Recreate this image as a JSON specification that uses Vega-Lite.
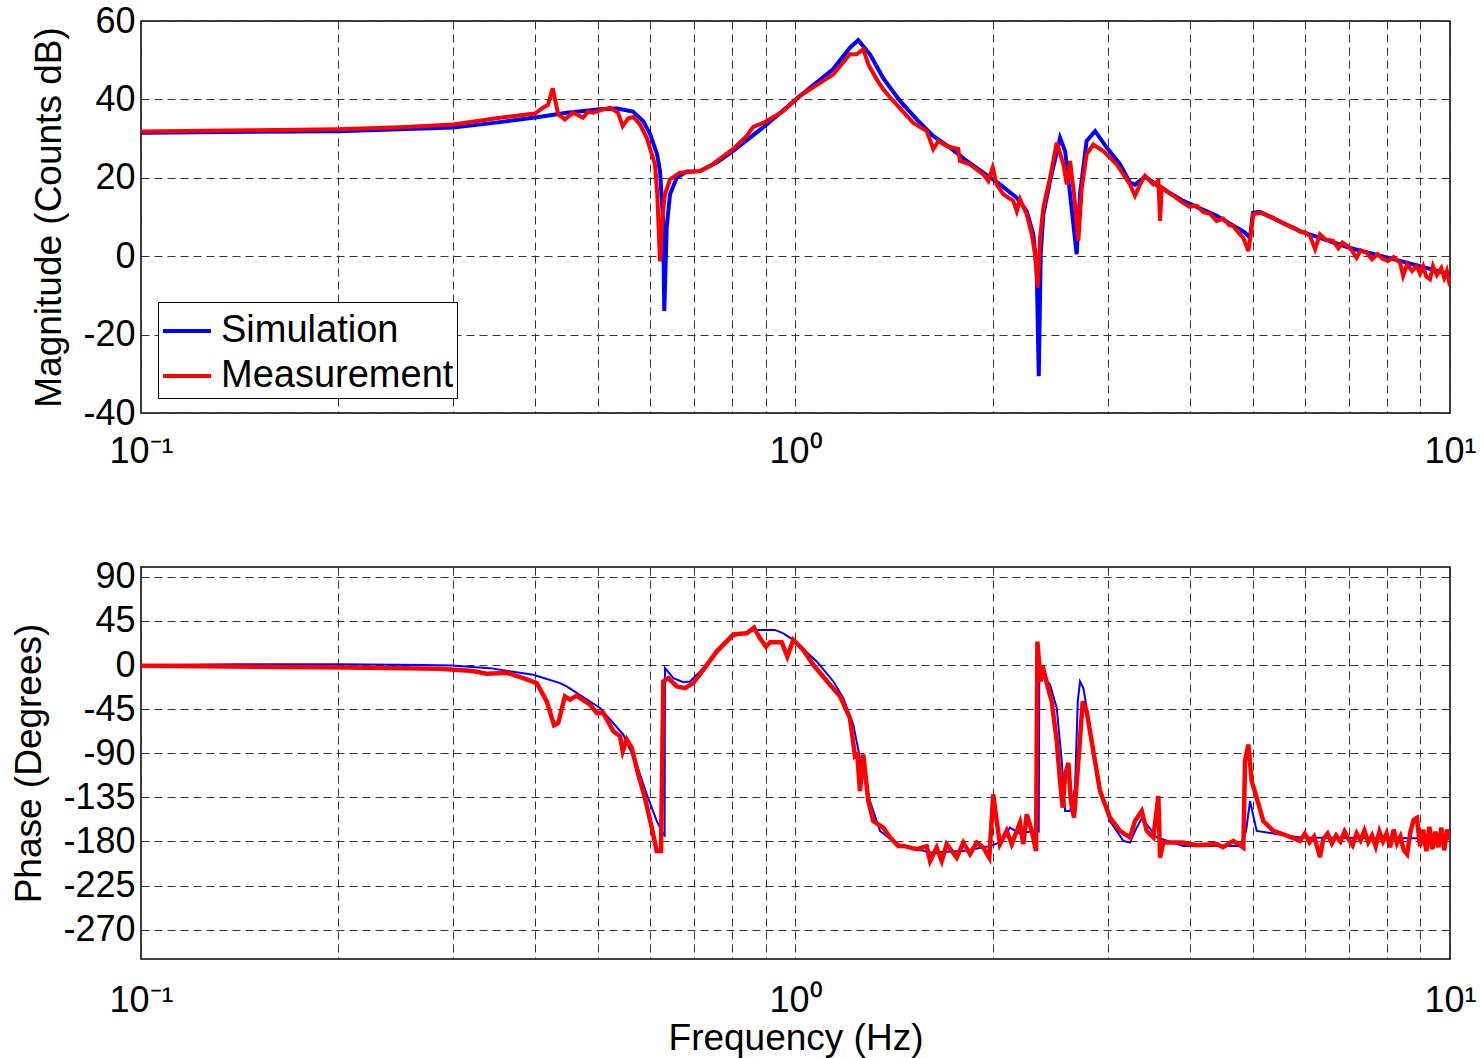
{
  "$schema": "https://vega.github.io/schema/vega-lite/v6.json",
  "background": "white",
  "padding": {"left": 10, "top": 2, "right": 4, "bottom": 4},
  "bounds": "flush",
  "spacing": 154,
  "config": {
    "font": "Liberation Sans",
    "view": {"stroke": "#000000", "strokeWidth": 1.5},
    "axis": {
      "labelFont": "Liberation Sans", "labelFontSize": 36, "labelColor": "#000000",
      "titleFont": "Liberation Sans", "titleFontSize": 37, "titleFontWeight": "normal", "titleColor": "#000000",
      "domain": false, "ticks": false, "tickSize": 0,
      "grid": true, "gridColor": "#333333", "gridDash": [8, 5], "gridWidth": 1, "gridOpacity": 1
    }
  },
  "resolve": {"scale": {"color": "independent"}, "legend": {"color": "independent"}},
  "datasets": {
    "mag": [
      {"freq": 0.1, "value": 31.5, "series": "Simulation"},
      {"freq": 0.2, "value": 31.9, "series": "Simulation"},
      {"freq": 0.3, "value": 32.8, "series": "Simulation"},
      {"freq": 0.3535, "value": 34.2, "series": "Simulation"},
      {"freq": 0.4, "value": 35.4, "series": "Simulation"},
      {"freq": 0.4478, "value": 36.6, "series": "Simulation"},
      {"freq": 0.5027, "value": 37.5, "series": "Simulation"},
      {"freq": 0.5338, "value": 37.7, "series": "Simulation"},
      {"freq": 0.5646, "value": 36.9, "series": "Simulation"},
      {"freq": 0.5848, "value": 34.5, "series": "Simulation"},
      {"freq": 0.5994, "value": 31.2, "series": "Simulation"},
      {"freq": 0.6143, "value": 26.1, "series": "Simulation"},
      {"freq": 0.6209, "value": 21.7, "series": "Simulation"},
      {"freq": 0.6276, "value": 9, "series": "Simulation"},
      {"freq": 0.6302, "value": -14, "series": "Simulation"},
      {"freq": 0.6356, "value": 7.3, "series": "Simulation"},
      {"freq": 0.6431, "value": 15.8, "series": "Simulation"},
      {"freq": 0.6584, "value": 20, "series": "Simulation"},
      {"freq": 0.6821, "value": 21.6, "series": "Simulation"},
      {"freq": 0.7146, "value": 21.7, "series": "Simulation"},
      {"freq": 0.7578, "value": 23.9, "series": "Simulation"},
      {"freq": 0.8025, "value": 26.8, "series": "Simulation"},
      {"freq": 0.9036, "value": 33.6, "series": "Simulation"},
      {"freq": 1.016, "value": 40.9, "series": "Simulation"},
      {"freq": 1.141, "value": 47.7, "series": "Simulation"},
      {"freq": 1.211, "value": 53.2, "series": "Simulation"},
      {"freq": 1.247, "value": 55.1, "series": "Simulation"},
      {"freq": 1.2995, "value": 51.5, "series": "Simulation"},
      {"freq": 1.3606, "value": 45.5, "series": "Simulation"},
      {"freq": 1.4444, "value": 39.6, "series": "Simulation"},
      {"freq": 1.5318, "value": 34.9, "series": "Simulation"},
      {"freq": 1.6226, "value": 30.7, "series": "Simulation"},
      {"freq": 1.7221, "value": 27.7, "series": "Simulation"},
      {"freq": 1.827, "value": 24.3, "series": "Simulation"},
      {"freq": 1.936, "value": 21.3, "series": "Simulation"},
      {"freq": 2.053, "value": 18.3, "series": "Simulation"},
      {"freq": 2.178, "value": 14.9, "series": "Simulation"},
      {"freq": 2.2557, "value": 11.5, "series": "Simulation"},
      {"freq": 2.3088, "value": 5.6, "series": "Simulation"},
      {"freq": 2.3366, "value": -3.8, "series": "Simulation"},
      {"freq": 2.3533, "value": -30.6, "series": "Simulation"},
      {"freq": 2.3696, "value": 0.5, "series": "Simulation"},
      {"freq": 2.3915, "value": 10.7, "series": "Simulation"},
      {"freq": 2.4484, "value": 19.2, "series": "Simulation"},
      {"freq": 2.5364, "value": 30.2, "series": "Simulation"},
      {"freq": 2.5818, "value": 26.8, "series": "Simulation"},
      {"freq": 2.6274, "value": 15.8, "series": "Simulation"},
      {"freq": 2.689, "value": 0.5, "series": "Simulation"},
      {"freq": 2.7207, "value": 15.8, "series": "Simulation"},
      {"freq": 2.785, "value": 29.4, "series": "Simulation"},
      {"freq": 2.8695, "value": 31.9, "series": "Simulation"},
      {"freq": 2.9887, "value": 27.7, "series": "Simulation"},
      {"freq": 3.1317, "value": 23.5, "series": "Simulation"},
      {"freq": 3.2439, "value": 18.8, "series": "Simulation"},
      {"freq": 3.3013, "value": 18.2, "series": "Simulation"},
      {"freq": 3.4198, "value": 20.3, "series": "Simulation"},
      {"freq": 3.6058, "value": 17.6, "series": "Simulation"},
      {"freq": 3.9125, "value": 14.1, "series": "Simulation"},
      {"freq": 4.4007, "value": 10.3, "series": "Simulation"},
      {"freq": 4.862, "value": 6.0, "series": "Simulation"},
      {"freq": 4.948, "value": 4.7, "series": "Simulation"},
      {"freq": 5.0, "value": 11.1, "series": "Simulation"},
      {"freq": 5.125, "value": 11.3, "series": "Simulation"},
      {"freq": 5.899, "value": 6.4, "series": "Simulation"},
      {"freq": 7.035, "value": 2.1, "series": "Simulation"},
      {"freq": 8.387, "value": -1.2, "series": "Simulation"},
      {"freq": 10, "value": -4.6, "series": "Simulation"},

      {"freq": 0.1, "value": 31.8, "series": "Measurement"},
      {"freq": 0.1467, "value": 32.1, "series": "Measurement"},
      {"freq": 0.2, "value": 32.4, "series": "Measurement"},
      {"freq": 0.2487, "value": 32.9, "series": "Measurement"},
      {"freq": 0.3, "value": 33.6, "series": "Measurement"},
      {"freq": 0.3535, "value": 35.3, "series": "Measurement"},
      {"freq": 0.4, "value": 36.4, "series": "Measurement"},
      {"freq": 0.4114, "value": 37.9, "series": "Measurement"},
      {"freq": 0.4186, "value": 38.6, "series": "Measurement"},
      {"freq": 0.4256, "value": 42.8, "series": "Measurement"},
      {"freq": 0.434, "value": 36.2, "series": "Measurement"},
      {"freq": 0.4443, "value": 34.9, "series": "Measurement"},
      {"freq": 0.4571, "value": 36.6, "series": "Measurement"},
      {"freq": 0.4735, "value": 35.3, "series": "Measurement"},
      {"freq": 0.4819, "value": 36.9, "series": "Measurement"},
      {"freq": 0.4905, "value": 36.6, "series": "Measurement"},
      {"freq": 0.5027, "value": 37.2, "series": "Measurement"},
      {"freq": 0.5207, "value": 37.9, "series": "Measurement"},
      {"freq": 0.5356, "value": 36.6, "series": "Measurement"},
      {"freq": 0.5445, "value": 33.2, "series": "Measurement"},
      {"freq": 0.5552, "value": 35.2, "series": "Measurement"},
      {"freq": 0.5652, "value": 35.5, "series": "Measurement"},
      {"freq": 0.5786, "value": 33.6, "series": "Measurement"},
      {"freq": 0.5926, "value": 30.2, "series": "Measurement"},
      {"freq": 0.6031, "value": 26, "series": "Measurement"},
      {"freq": 0.61, "value": 23.4, "series": "Measurement"},
      {"freq": 0.6149, "value": 15.8, "series": "Measurement"},
      {"freq": 0.6209, "value": -1.3, "series": "Measurement"},
      {"freq": 0.6267, "value": 10.7, "series": "Measurement"},
      {"freq": 0.6318, "value": 15.8, "series": "Measurement"},
      {"freq": 0.6431, "value": 19.6, "series": "Measurement"},
      {"freq": 0.666, "value": 21.3, "series": "Measurement"},
      {"freq": 0.7146, "value": 21.7, "series": "Measurement"},
      {"freq": 0.7403, "value": 23, "series": "Measurement"},
      {"freq": 0.8025, "value": 27.3, "series": "Measurement"},
      {"freq": 0.8422, "value": 30.7, "series": "Measurement"},
      {"freq": 0.8619, "value": 33, "series": "Measurement"},
      {"freq": 0.8929, "value": 34, "series": "Measurement"},
      {"freq": 0.9581, "value": 37, "series": "Measurement"},
      {"freq": 1.016, "value": 40.9, "series": "Measurement"},
      {"freq": 1.1426, "value": 46.4, "series": "Measurement"},
      {"freq": 1.211, "value": 51.5, "series": "Measurement"},
      {"freq": 1.24, "value": 51.5, "series": "Measurement"},
      {"freq": 1.2693, "value": 52.8, "series": "Measurement"},
      {"freq": 1.2918, "value": 49, "series": "Measurement"},
      {"freq": 1.3306, "value": 45.1, "series": "Measurement"},
      {"freq": 1.3616, "value": 42.6, "series": "Measurement"},
      {"freq": 1.4104, "value": 39.6, "series": "Measurement"},
      {"freq": 1.5136, "value": 34, "series": "Measurement"},
      {"freq": 1.5867, "value": 31.9, "series": "Measurement"},
      {"freq": 1.624, "value": 27.3, "series": "Measurement"},
      {"freq": 1.6527, "value": 29.4, "series": "Measurement"},
      {"freq": 1.7022, "value": 28.1, "series": "Measurement"},
      {"freq": 1.7731, "value": 27.3, "series": "Measurement"},
      {"freq": 1.7838, "value": 24.3, "series": "Measurement"},
      {"freq": 1.848, "value": 23.4, "series": "Measurement"},
      {"freq": 1.936, "value": 20.9, "series": "Measurement"},
      {"freq": 1.9705, "value": 19.2, "series": "Measurement"},
      {"freq": 2.0012, "value": 22.6, "series": "Measurement"},
      {"freq": 2.0296, "value": 18.3, "series": "Measurement"},
      {"freq": 2.0774, "value": 15.8, "series": "Measurement"},
      {"freq": 2.1518, "value": 14.1, "series": "Measurement"},
      {"freq": 2.178, "value": 11.5, "series": "Measurement"},
      {"freq": 2.2029, "value": 14.5, "series": "Measurement"},
      {"freq": 2.2557, "value": 10.7, "series": "Measurement"},
      {"freq": 2.2961, "value": 5.6, "series": "Measurement"},
      {"freq": 2.3228, "value": 0.5, "series": "Measurement"},
      {"freq": 2.3451, "value": -8, "series": "Measurement"},
      {"freq": 2.3641, "value": 4.7, "series": "Measurement"},
      {"freq": 2.3915, "value": 12.4, "series": "Measurement"},
      {"freq": 2.4484, "value": 20, "series": "Measurement"},
      {"freq": 2.5071, "value": 29, "series": "Measurement"},
      {"freq": 2.5662, "value": 23.4, "series": "Measurement"},
      {"freq": 2.5971, "value": 18.3, "series": "Measurement"},
      {"freq": 2.6274, "value": 24.3, "series": "Measurement"},
      {"freq": 2.6643, "value": 15.8, "series": "Measurement"},
      {"freq": 2.705, "value": 3.9, "series": "Measurement"},
      {"freq": 2.7376, "value": 17.5, "series": "Measurement"},
      {"freq": 2.785, "value": 26, "series": "Measurement"},
      {"freq": 2.851, "value": 28.5, "series": "Measurement"},
      {"freq": 2.953, "value": 26.8, "series": "Measurement"},
      {"freq": 3.0959, "value": 23.4, "series": "Measurement"},
      {"freq": 3.2439, "value": 18.3, "series": "Measurement"},
      {"freq": 3.3013, "value": 15.4, "series": "Measurement"},
      {"freq": 3.3604, "value": 18.3, "series": "Measurement"},
      {"freq": 3.4198, "value": 20.5, "series": "Measurement"},
      {"freq": 3.5222, "value": 18.3, "series": "Measurement"},
      {"freq": 3.5843, "value": 19.2, "series": "Measurement"},
      {"freq": 3.6058, "value": 9, "series": "Measurement"},
      {"freq": 3.6275, "value": 17.5, "series": "Measurement"},
      {"freq": 3.9125, "value": 13.6, "series": "Measurement"},
      {"freq": 4.0, "value": 12.6, "series": "Measurement"},
      {"freq": 4.1, "value": 12.9, "series": "Measurement"},
      {"freq": 4.2, "value": 11.2, "series": "Measurement"},
      {"freq": 4.3, "value": 10.8, "series": "Measurement"},
      {"freq": 4.4007, "value": 9, "series": "Measurement"},
      {"freq": 4.5, "value": 9.6, "series": "Measurement"},
      {"freq": 4.6, "value": 7.9, "series": "Measurement"},
      {"freq": 4.6665, "value": 7.7, "series": "Measurement"},
      {"freq": 4.75, "value": 6.0, "series": "Measurement"},
      {"freq": 4.8335, "value": 4.7, "series": "Measurement"},
      {"freq": 4.9188, "value": 1.3, "series": "Measurement"},
      {"freq": 4.9774, "value": 7.3, "series": "Measurement"},
      {"freq": 5.0, "value": 10.7, "series": "Measurement"},
      {"freq": 5.13, "value": 11.1, "series": "Measurement"},
      {"freq": 5.25, "value": 10.5, "series": "Measurement"},
      {"freq": 5.37, "value": 9.8, "series": "Measurement"},
      {"freq": 5.5, "value": 8.8, "series": "Measurement"},
      {"freq": 5.6, "value": 8.1, "series": "Measurement"},
      {"freq": 5.76, "value": 7.3, "series": "Measurement"},
      {"freq": 5.9, "value": 6.3, "series": "Measurement"},
      {"freq": 6.0, "value": 6.0, "series": "Measurement"},
      {"freq": 6.11, "value": 5.2, "series": "Measurement"},
      {"freq": 6.22, "value": 1.8, "series": "Measurement"},
      {"freq": 6.33, "value": 5.6, "series": "Measurement"},
      {"freq": 6.45, "value": 4.3, "series": "Measurement"},
      {"freq": 6.63, "value": 3.9, "series": "Measurement"},
      {"freq": 6.75, "value": 2.0, "series": "Measurement"},
      {"freq": 6.85, "value": 3.5, "series": "Measurement"},
      {"freq": 7.03, "value": 2.2, "series": "Measurement"},
      {"freq": 7.2, "value": -0.4, "series": "Measurement"},
      {"freq": 7.3, "value": 1.5, "series": "Measurement"},
      {"freq": 7.46, "value": 0.9, "series": "Measurement"},
      {"freq": 7.6, "value": -0.8, "series": "Measurement"},
      {"freq": 7.75, "value": 0.5, "series": "Measurement"},
      {"freq": 7.91, "value": -0.8, "series": "Measurement"},
      {"freq": 8.05, "value": -1.2, "series": "Measurement"},
      {"freq": 8.2, "value": -0.2, "series": "Measurement"},
      {"freq": 8.39, "value": -1.7, "series": "Measurement"},
      {"freq": 8.48, "value": -5, "series": "Measurement"},
      {"freq": 8.6, "value": -2.0, "series": "Measurement"},
      {"freq": 8.75, "value": -3.8, "series": "Measurement"},
      {"freq": 8.89, "value": -2.5, "series": "Measurement"},
      {"freq": 9.0, "value": -4.5, "series": "Measurement"},
      {"freq": 9.1, "value": -2.6, "series": "Measurement"},
      {"freq": 9.2, "value": -5.2, "series": "Measurement"},
      {"freq": 9.32, "value": -5.9, "series": "Measurement"},
      {"freq": 9.42, "value": -2.5, "series": "Measurement"},
      {"freq": 9.55, "value": -4.8, "series": "Measurement"},
      {"freq": 9.7, "value": -3.0, "series": "Measurement"},
      {"freq": 9.8, "value": -5.5, "series": "Measurement"},
      {"freq": 9.89, "value": -3.8, "series": "Measurement"},
      {"freq": 10, "value": -7.6, "series": "Measurement"}
    ],
    "phase": [
      {"freq": 0.1, "value": 0, "series": "Simulation"},
      {"freq": 0.1417, "value": 0.8, "series": "Simulation"},
      {"freq": 0.2, "value": 0.8, "series": "Simulation"},
      {"freq": 0.2698, "value": 0, "series": "Simulation"},
      {"freq": 0.2983, "value": -0.5, "series": "Simulation"},
      {"freq": 0.3413, "value": -3.2, "series": "Simulation"},
      {"freq": 0.3976, "value": -10, "series": "Simulation"},
      {"freq": 0.4368, "value": -18.5, "series": "Simulation"},
      {"freq": 0.4471, "value": -21.9, "series": "Simulation"},
      {"freq": 0.5027, "value": -43.9, "series": "Simulation"},
      {"freq": 0.5456, "value": -71, "series": "Simulation"},
      {"freq": 0.572, "value": -101.5, "series": "Simulation"},
      {"freq": 0.5926, "value": -132, "series": "Simulation"},
      {"freq": 0.6136, "value": -159, "series": "Simulation"},
      {"freq": 0.6281, "value": -172.7, "series": "Simulation"},
      {"freq": 0.631, "value": -174, "series": "Simulation"},
      {"freq": 0.6318, "value": -3.2, "series": "Simulation"},
      {"freq": 0.6505, "value": -13.4, "series": "Simulation"},
      {"freq": 0.674, "value": -17.5, "series": "Simulation"},
      {"freq": 0.69, "value": -16.8, "series": "Simulation"},
      {"freq": 0.7229, "value": -3.2, "series": "Simulation"},
      {"freq": 0.7578, "value": 13.7, "series": "Simulation"},
      {"freq": 0.8035, "value": 29, "series": "Simulation"},
      {"freq": 0.852, "value": 34.8, "series": "Simulation"},
      {"freq": 0.8722, "value": 35.8, "series": "Simulation"},
      {"freq": 0.9305, "value": 35.8, "series": "Simulation"},
      {"freq": 0.9581, "value": 32.3, "series": "Simulation"},
      {"freq": 0.9922, "value": 25.6, "series": "Simulation"},
      {"freq": 1.0775, "value": 3.6, "series": "Simulation"},
      {"freq": 1.1426, "value": -16.8, "series": "Simulation"},
      {"freq": 1.1832, "value": -33.8, "series": "Simulation"},
      {"freq": 1.2254, "value": -60.8, "series": "Simulation"},
      {"freq": 1.2545, "value": -94.8, "series": "Simulation"},
      {"freq": 1.2995, "value": -138.8, "series": "Simulation"},
      {"freq": 1.3463, "value": -169.3, "series": "Simulation"},
      {"freq": 1.4276, "value": -182.8, "series": "Simulation"},
      {"freq": 1.6055, "value": -191.4, "series": "Simulation"},
      {"freq": 1.8031, "value": -189.7, "series": "Simulation"},
      {"freq": 1.9828, "value": -184.6, "series": "Simulation"},
      {"freq": 2.053, "value": -181, "series": "Simulation"},
      {"freq": 2.1266, "value": -166, "series": "Simulation"},
      {"freq": 2.2029, "value": -172, "series": "Simulation"},
      {"freq": 2.3088, "value": -169.3, "series": "Simulation"},
      {"freq": 2.353, "value": -170, "series": "Simulation"},
      {"freq": 2.3577, "value": -4.9, "series": "Simulation"},
      {"freq": 2.4484, "value": -20.1, "series": "Simulation"},
      {"freq": 2.5071, "value": -43.9, "series": "Simulation"},
      {"freq": 2.5515, "value": -98, "series": "Simulation"},
      {"freq": 2.5818, "value": -148.9, "series": "Simulation"},
      {"freq": 2.6274, "value": -148.9, "series": "Simulation"},
      {"freq": 2.6734, "value": -125.3, "series": "Simulation"},
      {"freq": 2.6995, "value": -37.1, "series": "Simulation"},
      {"freq": 2.7207, "value": -16.8, "series": "Simulation"},
      {"freq": 2.7532, "value": -23.6, "series": "Simulation"},
      {"freq": 2.8184, "value": -64.3, "series": "Simulation"},
      {"freq": 2.9195, "value": -125.3, "series": "Simulation"},
      {"freq": 3.0237, "value": -159.2, "series": "Simulation"},
      {"freq": 3.1682, "value": -179.5, "series": "Simulation"},
      {"freq": 3.2439, "value": -181.2, "series": "Simulation"},
      {"freq": 3.321, "value": -166, "series": "Simulation"},
      {"freq": 3.3835, "value": -156, "series": "Simulation"},
      {"freq": 3.5643, "value": -176, "series": "Simulation"},
      {"freq": 3.9125, "value": -184.6, "series": "Simulation"},
      {"freq": 4.7753, "value": -184.6, "series": "Simulation"},
      {"freq": 4.879, "value": -170, "series": "Simulation"},
      {"freq": 4.948, "value": -138.8, "series": "Simulation"},
      {"freq": 5.0655, "value": -169.3, "series": "Simulation"},
      {"freq": 5.899, "value": -176, "series": "Simulation"},
      {"freq": 10, "value": -177, "series": "Simulation"},

      {"freq": 0.1, "value": -0.8, "series": "Measurement"},
      {"freq": 0.2086, "value": -2.5, "series": "Measurement"},
      {"freq": 0.2862, "value": -3.9, "series": "Measurement"},
      {"freq": 0.3216, "value": -6.2, "series": "Measurement"},
      {"freq": 0.3375, "value": -8.8, "series": "Measurement"},
      {"freq": 0.3621, "value": -8, "series": "Measurement"},
      {"freq": 0.3838, "value": -13.4, "series": "Measurement"},
      {"freq": 0.4024, "value": -18.5, "series": "Measurement"},
      {"freq": 0.4168, "value": -37.1, "series": "Measurement"},
      {"freq": 0.4276, "value": -61.5, "series": "Measurement"},
      {"freq": 0.434, "value": -59.2, "series": "Measurement"},
      {"freq": 0.4443, "value": -32, "series": "Measurement"},
      {"freq": 0.4524, "value": -35.4, "series": "Measurement"},
      {"freq": 0.4631, "value": -31.3, "series": "Measurement"},
      {"freq": 0.4853, "value": -40.5, "series": "Measurement"},
      {"freq": 0.497, "value": -49, "series": "Measurement"},
      {"freq": 0.5085, "value": -49, "series": "Measurement"},
      {"freq": 0.5268, "value": -67.6, "series": "Measurement"},
      {"freq": 0.5394, "value": -72.7, "series": "Measurement"},
      {"freq": 0.5445, "value": -88, "series": "Measurement"},
      {"freq": 0.5522, "value": -76.1, "series": "Measurement"},
      {"freq": 0.562, "value": -84.6, "series": "Measurement"},
      {"freq": 0.5751, "value": -111.7, "series": "Measurement"},
      {"freq": 0.5888, "value": -135.5, "series": "Measurement"},
      {"freq": 0.6031, "value": -166, "series": "Measurement"},
      {"freq": 0.6136, "value": -189.7, "series": "Measurement"},
      {"freq": 0.623, "value": -189.7, "series": "Measurement"},
      {"freq": 0.6281, "value": -16.8, "series": "Measurement"},
      {"freq": 0.6392, "value": -13.4, "series": "Measurement"},
      {"freq": 0.6584, "value": -21.9, "series": "Measurement"},
      {"freq": 0.678, "value": -23.6, "series": "Measurement"},
      {"freq": 0.6979, "value": -18.5, "series": "Measurement"},
      {"freq": 0.7229, "value": -4.9, "series": "Measurement"},
      {"freq": 0.7578, "value": 13.7, "series": "Measurement"},
      {"freq": 0.8035, "value": 31.3, "series": "Measurement"},
      {"freq": 0.8422, "value": 32.3, "series": "Measurement"},
      {"freq": 0.8641, "value": 38.1, "series": "Measurement"},
      {"freq": 0.8827, "value": 27.3, "series": "Measurement"},
      {"freq": 0.9013, "value": 18.8, "series": "Measurement"},
      {"freq": 0.9141, "value": 23.2, "series": "Measurement"},
      {"freq": 0.9526, "value": 23.2, "series": "Measurement"},
      {"freq": 0.9716, "value": 8.6, "series": "Measurement"},
      {"freq": 0.9922, "value": 25.6, "series": "Measurement"},
      {"freq": 1.0278, "value": 15.4, "series": "Measurement"},
      {"freq": 1.0646, "value": 0.2, "series": "Measurement"},
      {"freq": 1.1289, "value": -20.1, "series": "Measurement"},
      {"freq": 1.1695, "value": -32, "series": "Measurement"},
      {"freq": 1.211, "value": -54.1, "series": "Measurement"},
      {"freq": 1.2328, "value": -93, "series": "Measurement"},
      {"freq": 1.2428, "value": -91.3, "series": "Measurement"},
      {"freq": 1.2545, "value": -128.7, "series": "Measurement"},
      {"freq": 1.2693, "value": -91.3, "series": "Measurement"},
      {"freq": 1.2918, "value": -138.8, "series": "Measurement"},
      {"freq": 1.3149, "value": -159.2, "series": "Measurement"},
      {"freq": 1.3616, "value": -166, "series": "Measurement"},
      {"freq": 1.3945, "value": -176, "series": "Measurement"},
      {"freq": 1.4358, "value": -184.6, "series": "Measurement"},
      {"freq": 1.4612, "value": -184.6, "series": "Measurement"},
      {"freq": 1.5318, "value": -188, "series": "Measurement"},
      {"freq": 1.5867, "value": -185, "series": "Measurement"},
      {"freq": 1.6055, "value": -200, "series": "Measurement"},
      {"freq": 1.6432, "value": -186.3, "series": "Measurement"},
      {"freq": 1.6726, "value": -200, "series": "Measurement"},
      {"freq": 1.7022, "value": -182.8, "series": "Measurement"},
      {"freq": 1.7633, "value": -196.5, "series": "Measurement"},
      {"freq": 1.8047, "value": -181.2, "series": "Measurement"},
      {"freq": 1.848, "value": -193, "series": "Measurement"},
      {"freq": 1.8919, "value": -181.2, "series": "Measurement"},
      {"freq": 1.936, "value": -186.3, "series": "Measurement"},
      {"freq": 1.9773, "value": -196.5, "series": "Measurement"},
      {"freq": 2.0051, "value": -132, "series": "Measurement"},
      {"freq": 2.0296, "value": -159.2, "series": "Measurement"},
      {"freq": 2.053, "value": -182.8, "series": "Measurement"},
      {"freq": 2.1022, "value": -169.3, "series": "Measurement"},
      {"freq": 2.1394, "value": -182.8, "series": "Measurement"},
      {"freq": 2.2029, "value": -160.9, "series": "Measurement"},
      {"freq": 2.2284, "value": -182.8, "series": "Measurement"},
      {"freq": 2.2557, "value": -152.4, "series": "Measurement"},
      {"freq": 2.2961, "value": -169.3, "series": "Measurement"},
      {"freq": 2.3312, "value": -189.7, "series": "Measurement"},
      {"freq": 2.3419, "value": 23.9, "series": "Measurement"},
      {"freq": 2.3696, "value": -16.8, "series": "Measurement"},
      {"freq": 2.3865, "value": -1.5, "series": "Measurement"},
      {"freq": 2.4203, "value": -18.5, "series": "Measurement"},
      {"freq": 2.463, "value": -37.1, "series": "Measurement"},
      {"freq": 2.5071, "value": -77.8, "series": "Measurement"},
      {"freq": 2.5364, "value": -118.5, "series": "Measurement"},
      {"freq": 2.5604, "value": -145.6, "series": "Measurement"},
      {"freq": 2.5818, "value": -111.7, "series": "Measurement"},
      {"freq": 2.6122, "value": -99.9, "series": "Measurement"},
      {"freq": 2.6346, "value": -138.8, "series": "Measurement"},
      {"freq": 2.6643, "value": -155.8, "series": "Measurement"},
      {"freq": 2.705, "value": -98, "series": "Measurement"},
      {"freq": 2.747, "value": -37.1, "series": "Measurement"},
      {"freq": 2.785, "value": -47.3, "series": "Measurement"},
      {"freq": 2.851, "value": -88, "series": "Measurement"},
      {"freq": 2.9195, "value": -128.7, "series": "Measurement"},
      {"freq": 3.0237, "value": -155.8, "series": "Measurement"},
      {"freq": 3.1317, "value": -169.3, "series": "Measurement"},
      {"freq": 3.2439, "value": -176, "series": "Measurement"},
      {"freq": 3.3013, "value": -159.2, "series": "Measurement"},
      {"freq": 3.3804, "value": -148.9, "series": "Measurement"},
      {"freq": 3.4404, "value": -169.3, "series": "Measurement"},
      {"freq": 3.5222, "value": -176, "series": "Measurement"},
      {"freq": 3.5843, "value": -133.7, "series": "Measurement"},
      {"freq": 3.6058, "value": -196.5, "series": "Measurement"},
      {"freq": 3.6475, "value": -181.2, "series": "Measurement"},
      {"freq": 3.9125, "value": -181.2, "series": "Measurement"},
      {"freq": 4.1, "value": -184, "series": "Measurement"},
      {"freq": 4.4007, "value": -182.8, "series": "Measurement"},
      {"freq": 4.5, "value": -186, "series": "Measurement"},
      {"freq": 4.6665, "value": -179.5, "series": "Measurement"},
      {"freq": 4.8335, "value": -186.3, "series": "Measurement"},
      {"freq": 4.862, "value": -98, "series": "Measurement"},
      {"freq": 4.9188, "value": -81.2, "series": "Measurement"},
      {"freq": 4.9774, "value": -118.5, "series": "Measurement"},
      {"freq": 5.0655, "value": -135.5, "series": "Measurement"},
      {"freq": 5.186, "value": -159.2, "series": "Measurement"},
      {"freq": 5.37, "value": -169.3, "series": "Measurement"},
      {"freq": 5.565, "value": -172.7, "series": "Measurement"},
      {"freq": 5.899, "value": -179.5, "series": "Measurement"},
      {"freq": 6.0, "value": -172, "series": "Measurement"},
      {"freq": 6.1, "value": -181, "series": "Measurement"},
      {"freq": 6.2, "value": -175, "series": "Measurement"},
      {"freq": 6.33, "value": -196, "series": "Measurement"},
      {"freq": 6.4, "value": -178, "series": "Measurement"},
      {"freq": 6.5, "value": -172, "series": "Measurement"},
      {"freq": 6.6, "value": -182, "series": "Measurement"},
      {"freq": 6.7, "value": -174, "series": "Measurement"},
      {"freq": 6.8, "value": -180, "series": "Measurement"},
      {"freq": 6.9, "value": -170, "series": "Measurement"},
      {"freq": 7.0, "value": -178, "series": "Measurement"},
      {"freq": 7.1, "value": -184, "series": "Measurement"},
      {"freq": 7.2, "value": -172, "series": "Measurement"},
      {"freq": 7.3, "value": -179, "series": "Measurement"},
      {"freq": 7.4, "value": -169, "series": "Measurement"},
      {"freq": 7.5, "value": -181, "series": "Measurement"},
      {"freq": 7.6, "value": -174, "series": "Measurement"},
      {"freq": 7.7, "value": -185, "series": "Measurement"},
      {"freq": 7.8, "value": -170, "series": "Measurement"},
      {"freq": 7.9, "value": -180, "series": "Measurement"},
      {"freq": 8.0, "value": -172, "series": "Measurement"},
      {"freq": 8.1, "value": -186, "series": "Measurement"},
      {"freq": 8.2, "value": -168, "series": "Measurement"},
      {"freq": 8.3, "value": -182, "series": "Measurement"},
      {"freq": 8.4, "value": -175, "series": "Measurement"},
      {"freq": 8.5, "value": -189, "series": "Measurement"},
      {"freq": 8.6, "value": -193, "series": "Measurement"},
      {"freq": 8.7, "value": -170, "series": "Measurement"},
      {"freq": 8.8, "value": -158, "series": "Measurement"},
      {"freq": 8.9, "value": -156, "series": "Measurement"},
      {"freq": 9.0, "value": -185, "series": "Measurement"},
      {"freq": 9.1, "value": -168, "series": "Measurement"},
      {"freq": 9.2, "value": -190, "series": "Measurement"},
      {"freq": 9.3, "value": -165, "series": "Measurement"},
      {"freq": 9.4, "value": -188, "series": "Measurement"},
      {"freq": 9.5, "value": -170, "series": "Measurement"},
      {"freq": 9.6, "value": -186, "series": "Measurement"},
      {"freq": 9.7, "value": -166, "series": "Measurement"},
      {"freq": 9.8, "value": -189, "series": "Measurement"},
      {"freq": 9.9, "value": -168, "series": "Measurement"},
      {"freq": 10, "value": -178, "series": "Measurement"}
    ]
  },
  "vconcat": [
    {
      "width": 1309,
      "height": 392,
      "data": {"name": "mag"},
      "encoding": {
        "x": {
          "field": "freq", "type": "quantitative",
          "scale": {"type": "log", "domain": [0.1, 10], "nice": false},
          "axis": {
            "title": null,
            "values": [0.1, 0.2, 0.3, 0.4, 0.5, 0.6, 0.7, 0.8, 0.9, 1, 2, 3, 4, 5, 6, 7, 8, 9, 10],
            "labelExpr": "datum.value == 0.1 ? '10⁻¹' : datum.value == 1 ? '10⁰' : datum.value == 10 ? '10¹' : ''",
            "labelPadding": 21, "labelFlush": false, "labelOverlap": false, "labelBound": false
          }
        },
        "y": {
          "field": "value", "type": "quantitative",
          "scale": {"domain": [-40, 60], "nice": false, "zero": false},
          "axis": {
            "title": "Magnitude (Counts dB)",
            "values": [-40, -20, 0, 20, 40, 60],
            "labelExpr": "datum.value + ''",
            "labelPadding": 6, "titlePadding": 14
          }
        },
        "color": {
          "field": "series", "type": "nominal",
          "scale": {"domain": ["Simulation", "Measurement"], "range": ["#0000ff", "#ff0000"]},
          "legend": {
            "title": null, "orient": "none", "legendX": 17, "legendY": 281, "direction": "vertical",
            "labelFont": "Liberation Sans", "labelFontSize": 38, "labelColor": "#000000", "labelLimit": 400,
            "symbolType": "stroke", "symbolSize": 2304, "symbolStrokeWidth": 4,
            "strokeColor": "#000000", "fillColor": "#ffffff", "padding": 3, "rowPadding": 0, "labelOffset": 8
          }
        }
      },
      "layer": [
        {"transform": [{"filter": "datum.series == 'Simulation'"}], "mark": {"type": "line", "strokeWidth": 4, "clip": true}},
        {"transform": [{"filter": "datum.series == 'Measurement'"}], "mark": {"type": "line", "strokeWidth": 4, "clip": true}}
      ]
    },
    {
      "width": 1309,
      "height": 392,
      "data": {"name": "phase"},
      "encoding": {
        "x": {
          "field": "freq", "type": "quantitative",
          "scale": {"type": "log", "domain": [0.1, 10], "nice": false},
          "axis": {
            "title": "Frequency (Hz)", "titlePadding": 2,
            "values": [0.1, 0.2, 0.3, 0.4, 0.5, 0.6, 0.7, 0.8, 0.9, 1, 2, 3, 4, 5, 6, 7, 8, 9, 10],
            "labelExpr": "datum.value == 0.1 ? '10⁻¹' : datum.value == 1 ? '10⁰' : datum.value == 10 ? '10¹' : ''",
            "labelPadding": 24, "labelFlush": false, "labelOverlap": false, "labelBound": false
          }
        },
        "y": {
          "field": "value", "type": "quantitative",
          "scale": {"domain": [-300, 100], "nice": false, "zero": false},
          "axis": {
            "title": "Phase (Degrees)",
            "values": [-270, -225, -180, -135, -90, -45, 0, 45, 90],
            "labelExpr": "datum.value + ''",
            "labelPadding": 6, "titlePadding": 14
          }
        },
        "color": {
          "field": "series", "type": "nominal",
          "scale": {"domain": ["Simulation", "Measurement"], "range": ["#0000ff", "#ff0000"]},
          "legend": null
        }
      },
      "layer": [
        {"transform": [{"filter": "datum.series == 'Simulation'"}], "mark": {"type": "line", "strokeWidth": 2, "clip": true}},
        {"transform": [{"filter": "datum.series == 'Measurement'"}], "mark": {"type": "line", "strokeWidth": 4.5, "clip": true}}
      ]
    }
  ]
}
